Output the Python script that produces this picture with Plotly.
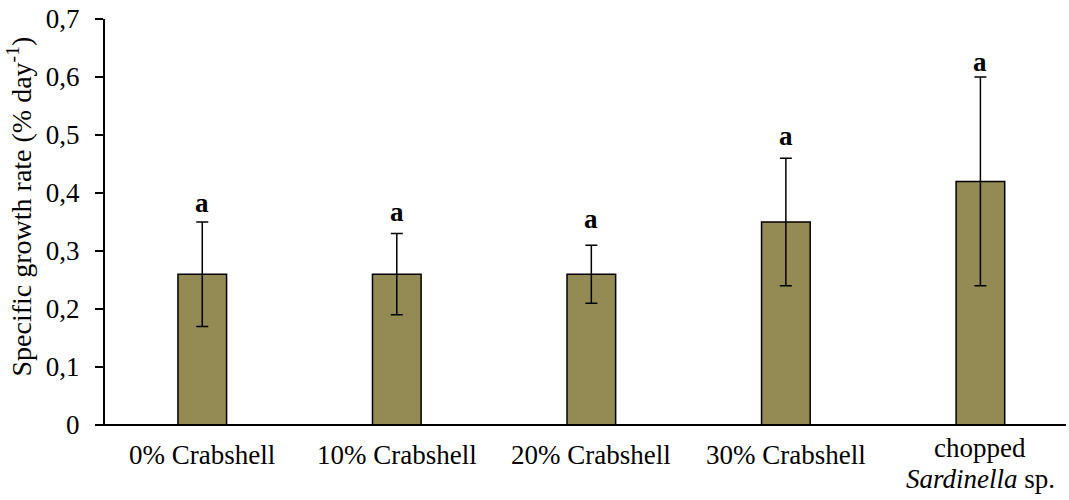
import plotly.graph_objects as go

# Treatments and specific growth rate (% per day), mean ± SD
treatments = ["0% Crabshell", "10% Crabshell", "20% Crabshell", "30% Crabshell",
              ["chopped", "<i>Sardinella</i> sp."]]
sgr_mean = [0.26, 0.26, 0.26, 0.35, 0.42]
sgr_sd = [0.09, 0.07, 0.05, 0.11, 0.18]
sig_letters = ["a", "a", "a", "a", "a"]

y_ticks = [0, 0.1, 0.2, 0.3, 0.4, 0.5, 0.6, 0.7]
y_ticktext = ["0", "0,1", "0,2", "0,3", "0,4", "0,5", "0,6", "0,7"]

FONT = "Times New Roman, Liberation Serif, serif"
FS = 27
W, H = 1069, 500
L, R, T, B = 105, 3, 19, 75

xpos = list(range(len(treatments)))

fig = go.Figure()
fig.add_trace(go.Bar(
    x=xpos,
    y=sgr_mean,
    width=0.25,
    marker=dict(color="#948A54", line=dict(color="black", width=1.5)),
    error_y=dict(type="data", array=sgr_sd, visible=True,
                 color="black", thickness=1.5, width=6),
    showlegend=False,
))

# significance letters above the error bars
letter_lift = [8, 11, 15, 11, 4]
for xi, m, s, lab, lift in zip(xpos, sgr_mean, sgr_sd, sig_letters, letter_lift):
    fig.add_annotation(x=xi, y=m + s, text="<b>%s</b>" % lab, showarrow=False,
                       yanchor="bottom", yshift=lift - 6,
                       font=dict(family=FONT, size=FS, color="black"))

# category labels under the horizontal axis
for xi, lab in zip(xpos, treatments):
    lines = lab if isinstance(lab, list) else [lab]
    shifts = [-30] if len(lines) == 1 else [-23, -54]
    for line, sh in zip(lines, shifts):
        fig.add_annotation(x=xi, y=0, yref="paper", text=line, showarrow=False,
                           yanchor="middle", yshift=sh,
                           font=dict(family=FONT, size=FS, color="black"))

# y-axis title
fig.add_annotation(xref="paper", yref="paper",
                   x=(0 - L) / (W - L - R), y=(H - B - 207) / (H - T - B),
                   xanchor="left",
                   text="Specific growth rate (% day<sup>-1</sup>)",
                   textangle=-90, showarrow=False,
                   font=dict(family=FONT, size=28, color="black"))

# horizontal axis line extends left under the y tick marks
fig.add_shape(type="line", xref="paper", yref="paper",
              x0=-8 / (W - L - R), x1=1, y0=0, y1=0,
              line=dict(color="black", width=2))

fig.update_layout(
    width=W, height=H,
    margin=dict(l=L, r=R, t=T, b=B),
    plot_bgcolor="white", paper_bgcolor="white",
    font=dict(family=FONT, size=FS, color="black"),
    xaxis=dict(
        range=[-0.5, 4.44],
        tickvals=xpos, showticklabels=False,
        showgrid=False, zeroline=False, showline=False, ticks="",
    ),
    yaxis=dict(
        range=[0, 0.7],
        tickvals=y_ticks, ticktext=y_ticktext,
        showgrid=False, zeroline=False,
        showline=True, linecolor="black", linewidth=2,
        ticks="outside", ticklen=8, tickwidth=2, tickcolor="black",
        ticklabelstandoff=10,
        tickfont=dict(size=FS),
    ),
)

fig.write_html("out.html")
